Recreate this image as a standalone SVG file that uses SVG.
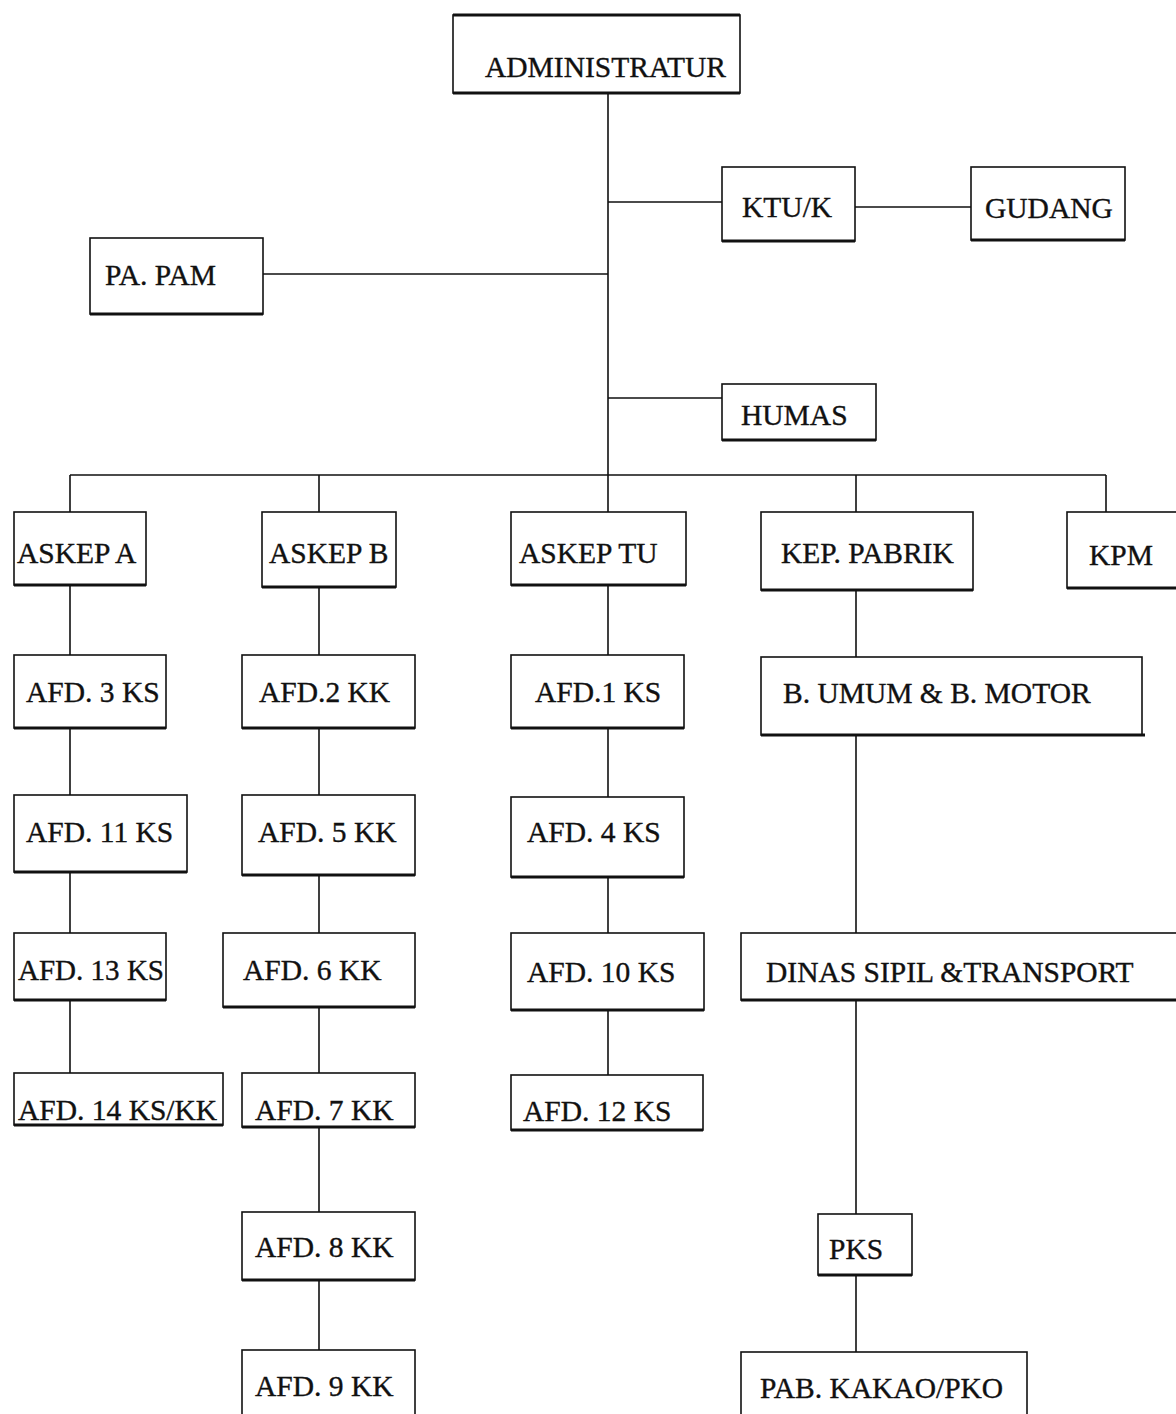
<svg xmlns="http://www.w3.org/2000/svg" width="1176" height="1414" viewBox="0 0 1176 1414">
<style>
.b{fill:none;stroke:#111;stroke-width:1.6}
.e{stroke:#111;stroke-width:3}
.c{fill:none;stroke:#111;stroke-width:1.6}
text{font-family:"Liberation Serif","Times New Roman",serif;font-size:29.5px;fill:#111;stroke:#111;stroke-width:0.35}
</style>
<rect width="1176" height="1414" fill="#fff"/>
<g id="connectors">
<path class="c" d="M608 93V475M608 202H722M855 207H971M263 274H608M608 398H722M70 475H1106M70 475V512M319 475V512M608 475V512M856 475V512M1106 475V512"/>
<path class="c" d="M70 585V655M70 728V795M70 872V933M70 1000V1073"/>
<path class="c" d="M319 587V655M319 728V795M319 875V933M319 1007V1073M319 1127V1212M319 1280V1350"/>
<path class="c" d="M608 585V655M608 728V797M608 877V933M608 1010V1075"/>
<path class="c" d="M856 590V657M856 735V933M856 1000V1214M856 1275V1352"/>
</g>
<g id="n-admin"><rect class="b" x="453" y="15" width="287" height="78"/><line class="e" x1="453" y1="15" x2="740" y2="15"/><line class="e" x1="453" y1="93" x2="740" y2="93"/><text x="485" y="77">ADMINISTRATUR</text></g>
<g id="n-ktu"><rect class="b" x="722" y="167" width="133" height="74"/><line class="e" x1="722" y1="241" x2="855" y2="241"/><text x="742" y="217">KTU/K</text></g>
<g id="n-gudang"><rect class="b" x="971" y="167" width="154" height="73"/><line class="e" x1="971" y1="240" x2="1125" y2="240"/><text x="985" y="218">GUDANG</text></g>
<g id="n-papam"><rect class="b" x="90" y="238" width="173" height="76"/><line class="e" x1="90" y1="314" x2="263" y2="314"/><text x="105" y="285">PA. PAM</text></g>
<g id="n-humas"><rect class="b" x="722" y="384" width="154" height="56"/><line class="e" x1="722" y1="440" x2="876" y2="440"/><text x="741" y="425">HUMAS</text></g>
<g id="n-askepa"><rect class="b" x="14" y="512" width="132" height="73"/><line class="e" x1="14" y1="585" x2="146" y2="585"/><text x="17" y="563">ASKEP A</text></g>
<g id="n-askepb"><rect class="b" x="262" y="512" width="134" height="75"/><line class="e" x1="262" y1="587" x2="396" y2="587"/><text x="269" y="563">ASKEP B</text></g>
<g id="n-askeptu"><rect class="b" x="511" y="512" width="175" height="73"/><line class="e" x1="511" y1="585" x2="686" y2="585"/><text x="519" y="563">ASKEP TU</text></g>
<g id="n-kep"><rect class="b" x="761" y="512" width="212" height="78"/><line class="e" x1="761" y1="590" x2="973" y2="590"/><text x="781" y="563">KEP. PABRIK</text></g>
<g id="n-kpm"><rect class="b" x="1067" y="512" width="112" height="76"/><line class="e" x1="1067" y1="588" x2="1176" y2="588"/><text x="1089" y="565">KPM</text></g>
<g id="n-afd3"><rect class="b" x="14" y="655" width="152" height="73"/><line class="e" x1="14" y1="728" x2="166" y2="728"/><text x="26" y="702">AFD. 3 KS</text></g>
<g id="n-afd2"><rect class="b" x="242" y="655" width="173" height="73"/><line class="e" x1="242" y1="728" x2="415" y2="728"/><text x="259" y="702">AFD.2 KK</text></g>
<g id="n-afd1"><rect class="b" x="511" y="655" width="173" height="73"/><line class="e" x1="511" y1="728" x2="684" y2="728"/><text x="535" y="702">AFD.1 KS</text></g>
<g id="n-bumum"><rect class="b" x="761" y="657" width="381" height="78"/><line class="e" x1="761" y1="735" x2="1145" y2="735"/><text x="783" y="703">B. UMUM &amp; B. MOTOR</text></g>
<g id="n-afd11"><rect class="b" x="14" y="795" width="173" height="77"/><line class="e" x1="14" y1="872" x2="187" y2="872"/><text x="26" y="842">AFD. 11 KS</text></g>
<g id="n-afd5"><rect class="b" x="242" y="795" width="173" height="80"/><line class="e" x1="242" y1="875" x2="415" y2="875"/><text x="258" y="842">AFD. 5 KK</text></g>
<g id="n-afd4"><rect class="b" x="511" y="797" width="173" height="80"/><line class="e" x1="511" y1="877" x2="684" y2="877"/><text x="527" y="842">AFD. 4 KS</text></g>
<g id="n-afd13"><rect class="b" x="14" y="933" width="152" height="67"/><line class="e" x1="14" y1="1000" x2="166" y2="1000"/><text x="18" y="980" textLength="146" lengthAdjust="spacingAndGlyphs">AFD. 13 KS</text></g>
<g id="n-afd6"><rect class="b" x="223" y="933" width="192" height="74"/><line class="e" x1="223" y1="1007" x2="415" y2="1007"/><text x="243" y="980">AFD. 6 KK</text></g>
<g id="n-afd10"><rect class="b" x="511" y="933" width="193" height="77"/><line class="e" x1="511" y1="1010" x2="704" y2="1010"/><text x="527" y="982">AFD. 10 KS</text></g>
<g id="n-dinas"><rect class="b" x="741" y="933" width="437" height="67"/><line class="e" x1="741" y1="1000" x2="1176" y2="1000"/><text x="766" y="982">DINAS SIPIL &amp;TRANSPORT</text></g>
<g id="n-afd14"><rect class="b" x="14" y="1073" width="209" height="52"/><line class="e" x1="14" y1="1125" x2="223" y2="1125"/><text x="18" y="1120">AFD. 14 KS/KK</text></g>
<g id="n-afd7"><rect class="b" x="242" y="1073" width="173" height="54"/><line class="e" x1="242" y1="1127" x2="415" y2="1127"/><text x="255" y="1120">AFD. 7 KK</text></g>
<g id="n-afd12"><rect class="b" x="511" y="1075" width="192" height="55"/><line class="e" x1="511" y1="1130" x2="703" y2="1130"/><text x="523" y="1121">AFD. 12 KS</text></g>
<g id="n-afd8"><rect class="b" x="242" y="1212" width="173" height="68"/><line class="e" x1="242" y1="1280" x2="415" y2="1280"/><text x="255" y="1257">AFD. 8 KK</text></g>
<g id="n-pks"><rect class="b" x="818" y="1214" width="94" height="61"/><line class="e" x1="818" y1="1275" x2="912" y2="1275"/><text x="829" y="1259">PKS</text></g>
<g id="n-afd9"><rect class="b" x="242" y="1350" width="173" height="70"/><text x="255" y="1396">AFD. 9 KK</text></g>
<g id="n-pab"><rect class="b" x="741" y="1352" width="286" height="70"/><text x="760" y="1398">PAB. KAKAO/PKO</text></g>
</svg>
